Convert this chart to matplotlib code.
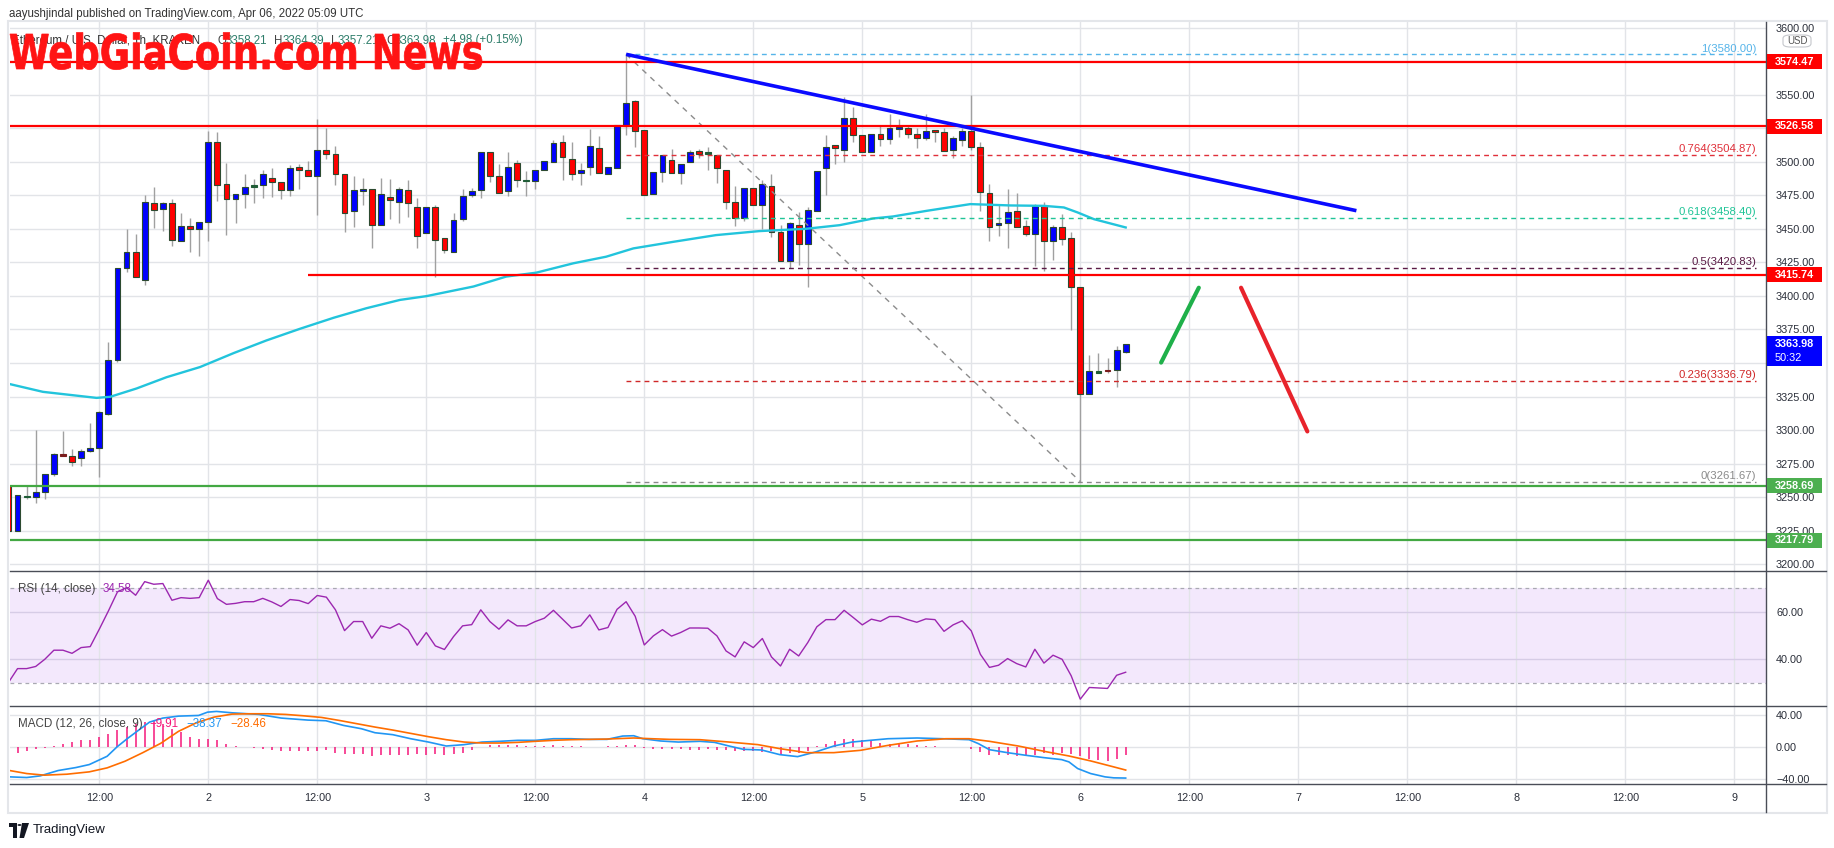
import matplotlib
matplotlib.use('Agg')
import matplotlib.pyplot as plt
import numpy as np
from matplotlib.patches import Rectangle, PathPatch, Polygon, Circle, FancyBboxPatch
from matplotlib.textpath import TextPath
from matplotlib.font_manager import FontProperties
from matplotlib.transforms import Affine2D, IdentityTransform
from matplotlib.lines import Line2D

W, H, DPI = 1834, 848, 100
plt.rcParams['font.family'] = ['Liberation Sans', 'DejaVu Sans']

# ---------------- data (hours since 2022-04-01 00:00 UTC) ----------------
hours = list(range(2, 126))
opens = [3258, 3225, 3250, 3250.5, 3253.5, 3267, 3282, 3281, 3279.5, 3284.6,
         3287, 3312, 3352, 3420.5, 3433, 3412, 3469.5, 3465, 3469.5, 3441,
         3452, 3450, 3454.7, 3515, 3483.7, 3472.5, 3476, 3481.4, 3482.4, 3488,
         3485, 3478.7, 3496, 3494, 3489.4, 3508.4, 3506, 3491, 3463.4, 3478,
         3480, 3453, 3474, 3470, 3479, 3466.6, 3446.5, 3466.6, 3443, 3432.4,
         3457, 3475, 3478.7, 3507, 3489.4, 3478, 3499, 3486, 3485.7, 3493.6,
         3500, 3514.6, 3502, 3491.6, 3496, 3510.4, 3490.6, 3495.3, 3526.5, 3545,
         3523.8, 3475.7, 3492, 3501.5, 3491.6, 3499.7, 3508, 3506, 3504.7, 3494,
         3470, 3458.4, 3480.4, 3467.6, 3482, 3447.8, 3426.2, 3452.8, 3438.6, 3463.4,
         3495.3, 3512.6, 3509, 3532.4, 3520, 3507, 3521, 3517, 3524, 3525,
         3520.7, 3517.5, 3523.7, 3522, 3509, 3516, 3523, 3510.8, 3476.5, 3452.5,
         3454.2, 3463.4, 3452.2, 3446, 3467, 3440.6, 3451.7, 3443, 3406.6, 3326.7,
         3343, 3345.2, 3344.6, 3358.21]
highs = [3260, 3252, 3259, 3300, 3267, 3283, 3299, 3286, 3286, 3305,
         3314, 3365.6, 3421, 3450, 3446, 3475, 3481, 3470, 3472, 3462,
         3458, 3455, 3522.8, 3522, 3499, 3476, 3490.6, 3487, 3493.6, 3495.5,
         3485, 3497.5, 3498, 3500.5, 3532, 3525, 3511.6, 3491, 3489.4, 3488,
         3480, 3487.6, 3487, 3481, 3486, 3472.8, 3466, 3467.6, 3443, 3461.6,
         3480, 3480.4, 3507, 3507, 3498, 3507.4, 3501, 3493, 3493.6, 3500.2,
         3516, 3520, 3514.6, 3499, 3524, 3519, 3496, 3527, 3580, 3546,
         3523.8, 3492.3, 3504.7, 3509.6, 3498.5, 3508.4, 3509.6, 3510.6, 3504.7, 3494,
         3482, 3480.4, 3480.4, 3486, 3490.6, 3452.8, 3455.2, 3462.7, 3466, 3493,
         3520, 3512.6, 3548.5, 3540.6, 3520, 3521, 3527, 3535.6, 3532, 3527,
         3525, 3535.6, 3523.7, 3525, 3519, 3525, 3549.8, 3515, 3483.5, 3468.6,
         3479.8, 3476.5, 3456.7, 3468.6, 3470.3, 3453, 3461.2, 3447.4, 3406.6, 3356.2,
         3357.6, 3354, 3362.7, 3364.39]
lows = [3224, 3224.5, 3249, 3245.6, 3249, 3266, 3281, 3273, 3273, 3284,
        3265, 3311, 3350.7, 3418, 3414, 3408, 3450.5, 3448.5, 3437.4, 3441,
        3433, 3429.6, 3441, 3471, 3445.5, 3454, 3465.6, 3469, 3473, 3474,
        3472, 3474.5, 3480, 3489, 3460.4, 3501.7, 3482.7, 3447.3, 3451.7, 3468,
        3436, 3453, 3457, 3454, 3459, 3436, 3446.5, 3414.4, 3432, 3432.4,
        3455.6, 3474, 3473, 3485, 3476.7, 3474.5, 3481, 3474.5, 3480, 3493.6,
        3500, 3486, 3486, 3482.7, 3490, 3491.6, 3490.6, 3495.3, 3519.6, 3511,
        3475, 3475.7, 3485, 3491.6, 3483.7, 3499.7, 3503, 3494, 3484, 3465,
        3452, 3456, 3468, 3450, 3444, 3426.2, 3420.5, 3422.7, 3407, 3463.4,
        3475, 3498.5, 3499.7, 3515, 3507, 3507, 3512, 3513, 3518.7, 3517.5,
        3510.5, 3516, 3515, 3508, 3503, 3512, 3509, 3463, 3440.6, 3445,
        3436, 3451.7, 3444.3, 3422, 3418.4, 3426.4, 3438, 3374.8, 3261.67, 3326.7,
        3342.5, 3342.7, 3331.8, 3357.21]
closes = [3225, 3252, 3251, 3254, 3267, 3282, 3281, 3276, 3284.6, 3287,
          3313.6, 3352, 3420.5, 3432.4, 3414, 3470, 3464, 3469.5, 3442, 3452,
          3450, 3454.7, 3515, 3482.7, 3472.5, 3475.7, 3481.4, 3482.4, 3491, 3485,
          3478.7, 3495.5, 3493.6, 3489.4, 3508.4, 3506, 3491, 3462, 3478.7, 3479.5,
          3453, 3475.7, 3471.5, 3480, 3469, 3445, 3466, 3442, 3434.4, 3456.7,
          3474.5, 3478, 3507, 3489.4, 3476.7, 3496, 3486, 3486.4, 3493.6, 3500.2,
          3514, 3503.5, 3490.6, 3494, 3511.6, 3491.6, 3496, 3527, 3543.8, 3523,
          3475, 3492.3, 3504.7, 3491.6, 3498.5, 3507, 3506, 3507, 3495, 3469.6,
          3458.4, 3480.4, 3468, 3483.7, 3447.8, 3426.2, 3454, 3438.6, 3463.9, 3493,
          3511, 3510, 3532.4, 3519.6, 3507, 3521, 3517, 3525.2, 3526, 3521,
          3517.5, 3523, 3522, 3508, 3517.5, 3523, 3511, 3477.3, 3451, 3454.2,
          3462.4, 3451.7, 3446, 3467, 3440.6, 3451.2, 3442.4, 3407, 3327, 3343.8,
          3343.5, 3344, 3360, 3363.98]

ema_hours = [2.2, 5.8, 11.7, 13.2, 16.1, 19.4, 23.1, 26.8, 30.4, 34.1, 37.8, 41.4, 45.1, 48.0,
             53.2, 56.8, 60.1, 64.2, 67.8, 70.8, 75.2, 79.9, 84.7, 89.8, 93.5, 97.2,
             99.4, 103.1, 107.9, 112.3, 116.0, 118.2, 119.7, 121.5, 125.0]
ema_values = [3334.2, 3328.5, 3324.0, 3324.8, 3331.0, 3339.4, 3347.0, 3357.4, 3366.8, 3375.5,
              3383.7, 3390.8, 3397.0, 3399.8, 3407.0, 3414.4, 3417.3, 3424.3, 3429.2, 3435.4,
              3440.3, 3445.3, 3448.3, 3450.0, 3452.7, 3457.7, 3459.2, 3463.4, 3468.4, 3467.4,
              3467.1, 3465.9, 3462.2, 3457.2, 3451.0]

rsi_values = [30.3, 36.1, 36.1, 37.0, 40.0, 43.8, 43.8, 42.5, 44.9, 45.3,
              52.6, 60.2, 68.2, 70.0, 66.8, 72.5, 71.4, 71.7, 64.7, 65.8,
              65.5, 65.8, 73.1, 65.4, 63.0, 63.4, 64.1, 64.1, 65.5, 64.0,
              62.1, 65.0, 64.6, 63.3, 66.7, 66.0, 60.7, 52.0, 55.8, 55.8,
              48.8, 54.0, 53.0, 54.9, 52.3, 45.9, 51.2, 45.6, 44.1, 49.5,
              54.0, 54.5, 60.7, 55.8, 52.6, 56.5, 54.0, 54.0, 55.8, 57.2,
              60.5, 56.8, 53.1, 54.0, 58.6, 52.3, 53.3, 60.9, 64.1, 58.0,
              46.0, 49.8, 52.4, 49.7, 51.2, 53.1, 53.1, 53.0, 49.8, 43.5,
              41.0, 47.3, 44.9, 48.7, 41.0, 37.2, 44.2, 41.4, 47.0, 53.6,
              56.6, 56.6, 60.5, 57.5, 54.4, 56.8, 55.9, 57.9, 57.9, 56.6,
              55.5, 56.9, 56.6, 51.7, 54.4, 56.1, 51.9, 42.1, 36.6, 37.5,
              40.3, 38.2, 36.8, 44.2, 38.4, 41.7, 40.0, 33.1, 23.3, 28.2,
              28.0, 27.8, 33.3, 34.58]

hist_values = [-7.0, -7.0, -5.3, -2.9, -1.2, 0.8, 3.7, 6.1, 8.2, 9.0,
               11.9, 16.4, 21.3, 24.6, 28.7, 30.7, 32.0, 27.9, 22.5, 18.4,
               12.3, 9.4, 10.2, 8.2, 4.1, 0.8, 0.0, -0.8, -2.0, -4.1,
               -5.3, -5.3, -5.3, -5.3, -5.3, -4.1, -7.0, -8.2, -8.2, -9.0,
               -11.1, -10.2, -9.4, -9.4, -9.4, -9.0, -9.4, -8.6, -10.2, -8.2,
               -7.0, -4.1, 0.0, 2.0, 2.0, 2.0, 2.0, 1.2, 1.2, 1.2,
               2.0, 1.2, 0.8, 0.8, 0.0, 0.0, 0.8, 1.6, 2.9, 2.0,
               -1.2, -2.0, -2.9, -2.9, -2.9, -3.3, -3.7, -2.9, -3.3, -4.1,
               -4.9, -5.3, -5.3, -6.1, -5.3, -8.2, -7.4, -7.0, -5.3, 1.2,
               3.3, 7.0, 10.2, 10.2, 9.0, 7.4, 4.9, 4.1, 3.3, 3.3,
               2.0, 1.2, 0.8, 0.0, -0.4, -0.4, -2.9, -6.1, -9.4, -10.2,
               -10.2, -11.1, -10.2, -10.2, -7.4, -9.4, -7.0, -8.2, -11.5, -14.3,
               -16.4, -17.6, -14.3, -9.91]

macd_hours = [2.15, 4.01, 5.49, 7.46, 9.42, 10.9, 12.86, 13.94, 15.07, 16.3, 17.53, 19.0,
              20.72, 22.93, 23.92, 24.9, 26.62, 29.57, 32.03, 34.97, 36.94, 38.9, 40.87,
              42.35, 44.31, 46.28, 48.24, 50.2, 52.17, 54.14, 56.1, 58.07, 60.03, 62.0,
              63.96, 65.93, 67.9, 69.62, 70.84, 71.83, 73.8, 75.76, 78.14, 79.74, 81.33,
              82.92, 84.91, 86.9, 88.88, 90.87, 92.87, 94.86, 96.85, 98.84, 102.03,
              104.81, 107.76, 108.79, 109.99, 111.98, 113.97, 115.96, 117.95, 118.75,
              119.71, 121.14, 122.73, 123.69, 125.0]
macd_values = [-36.9, -37.7, -35.7, -29.1, -25.4, -21.7, -11.5, 0.0, 10.2, 20.5, 30.7, 35.7,
               38.1, 38.9, 43.0, 43.9, 42.2, 40.2, 35.7, 33.2, 32.4, 26.6, 22.5,
               17.6, 15.2, 10.2, 6.1, 1.2, 2.9, 6.1, 7.0, 8.2, 8.2, 10.2,
               10.2, 9.4, 9.4, 13.5, 13.9, 10.2, 7.4, 6.1, 7.0, 5.7, 1.2,
               -2.9, -3.7, -9.4, -11.9, -6.1, 1.2, 6.1, 8.2, 10.2, 11.1,
               10.2, 9.0, 4.1, -3.3, -7.0, -10.2, -13.1, -15.6, -18.4,
               -26.6, -32.8, -36.9, -38.1, -38.37]
signal_hours = [2.15, 4.01, 5.98, 8.44, 10.9, 12.86, 14.83, 16.79, 18.76, 20.72, 22.69,
                24.65, 26.62, 28.58, 30.55, 32.52, 34.48, 36.45, 38.41, 40.38, 42.35,
                44.31, 46.28, 48.24, 50.2, 52.17, 54.14, 56.1, 58.07, 60.03, 62.0,
                63.96, 65.93, 67.9, 70.84, 72.81, 74.77, 78.14, 81.33, 84.51, 86.9,
                89.85, 92.87, 95.82, 98.84, 102.03, 105.2, 107.76, 109.99, 113.18,
                116.36, 118.75, 121.14, 123.69, 125.0]
signal_values = [-29.1, -32.8, -34.8, -33.6, -30.7, -25.8, -17.6, -7.0, 4.5, 19.3, 29.9,
                 36.9, 40.6, 41.0, 41.0, 40.2, 38.5, 36.5, 32.8, 28.7, 24.6,
                 20.9, 16.8, 12.7, 9.0, 6.1, 4.9, 4.9, 5.7, 7.0, 8.2,
                 9.0, 9.4, 9.8, 11.1, 10.2, 9.4, 9.0, 6.1, 2.9, -2.0,
                 -7.0, -7.0, -4.1, 2.0, 7.4, 10.2, 10.2, 7.0, 1.2,
                 -6.1, -11.1, -17.2, -24.6, -28.46]

red_levels = [3574.47, 3526.58]
mid_level = 3415.74
mid_level_start = 35
green_levels = [3258.69, 3217.79]
fib_ratios = ['1', '0.764', '0.618', '0.5', '0.236', '0']
fib_prices = [3580.00, 3504.87, 3458.40, 3420.83, 3336.79, 3261.67]
fib_start = 70
swing_hours = [70, 120]
swing_prices = [3580.00, 3261.67]
trend_hours = [70, 150.4]
trend_prices = [3580.0, 3463.5]
up_hours = [128.9, 133.05]
up_prices = [3350.3, 3406.1]
down_hours = [137.7, 145.0]
down_prices = [3406.1, 3299.0]
price_ticks = list(range(3200, 3601, 25))
hidden_price_ticks = [3350, 3525, 3575]   # covered by the label boxes in the original
time_ticks = list(range(12, 193, 12))
time_labels = ['12:00', '2', '12:00', '3', '12:00', '4', '12:00', '5',
               '12:00', '6', '12:00', '7', '12:00', '8', '12:00', '9']
last_price = 3363.98
countdown = '50:32'
ohlc_items = [('O', '3358.21'), ('H', '3364.39'), ('L', '3357.21'), ('C', '3363.98')]
change_text = '+4.98 (+0.15%)'

for arr in (opens, highs, lows, closes, rsi_values, hist_values):
    assert len(arr) == len(hours), len(arr)
assert len(ema_hours) == len(ema_values)
assert len(macd_hours) == len(macd_values)
assert len(signal_hours) == len(signal_values)

# ---------------- figure ----------------
fig = plt.figure(figsize=(W / DPI, H / DPI), dpi=DPI)
fig.patch.set_facecolor('white')


def rect(x0, y0, x1, y1):
    return [x0 / W, 1 - y1 / H, (x1 - x0) / W, (y1 - y0) / H]


AX_L, AX_R = 10, 1765.5
ax = fig.add_axes(rect(AX_L, 22, AX_R, 571))
axr = fig.add_axes(rect(AX_L, 571, AX_R, 706), sharex=ax)
axm = fig.add_axes(rect(AX_L, 706, AX_R, 784), sharex=ax)
XL = (2.17, 195.44)
GRID = '#e2e4e8'
TXT = '#2a2e39'

for a in (ax, axr, axm):
    a.set_facecolor('white')
    for s in a.spines.values():
        s.set_visible(False)
    a.set_xlim(*XL)
    a.set_xticks(time_ticks)
    a.grid(True, color=GRID, lw=1, zorder=0)
    a.set_axisbelow(True)
    a.yaxis.set_ticks_position('right')
    a.tick_params(axis='both', length=0, labelsize=7.8, colors=TXT,
                  labelleft=False, labelright=True, labelbottom=False, pad=7.6)

# ---- main panel ----
ax.set_ylim(3195.0, 3604.1)
ax.set_yticks(price_ticks)
ax.set_yticklabels(['' if p in hidden_price_ticks else f'{p:.2f}' for p in price_ticks])

t = np.array(hours, float)
o = np.array(opens); h = np.array(highs); l = np.array(lows); c = np.array(closes)
up = c >= o
ax.vlines(t, l, h, color='#a0a0a0', lw=1, zorder=3)
diff = np.abs(c - o)
doji = diff < 1.5
body_h = np.where(doji, 1.0, diff)
bottom = np.where(doji, (o + c) / 2 - 0.5, np.minimum(o, c))
face = np.where(up, '#0000ff', '#ff0000')
edge = np.where(doji, np.where(up, '#1f5c36', '#7a1c1c'), '#2c4a30')
face = np.where(doji, edge, face)
ax.bar(t, body_h, bottom=bottom, width=0.64, color=face, edgecolor=edge, lw=0.8, zorder=4)

ax.plot(ema_hours, ema_values, color='#22c4dc', lw=1.7, zorder=5)

for p in red_levels:
    ax.axhline(p, color='#ff0000', lw=1.6, zorder=6)
ax.hlines(mid_level, mid_level_start, XL[1], color='#ff0000', lw=1.6, zorder=6)
for p in green_levels:
    ax.axhline(p, color='#43a843', lw=1.6, zorder=6)

fib_colors = ['#56b4e9', '#e0303a', '#20c497', '#5a1a45', '#d02828', '#8a8a8a']
fib_end = 194.4
for r, p, col in zip(fib_ratios, fib_prices, fib_colors):
    ax.hlines(p, fib_start, fib_end, colors=col, lw=1.0, linestyles=(0, (3.5, 3)), zorder=5)
    ax.text(fib_end, p + 0.6, f'{r}({p:.2f})', color=col, fontsize=8.2, ha='right',
            va='bottom', zorder=7)
ax.plot(swing_hours, swing_prices, color='#8c8c8c', lw=1.0, ls=(0, (4, 4)), zorder=5)
ax.plot(trend_hours, trend_prices, color='#0a0aff', lw=2.6, zorder=7, solid_capstyle='butt')
ax.plot(up_hours, up_prices, color='#1fb04a', lw=3.0, zorder=7, solid_capstyle='round')
ax.plot(down_hours, down_prices, color='#e8232b', lw=3.0, zorder=7, solid_capstyle='round')

# ---- RSI panel ----
axr.set_ylim(20.45, 76.95)
axr.set_yticks([40, 60])
axr.set_yticklabels(['40.00', '60.00'])
axr.axhspan(30, 70, color='#f3e8fc', zorder=0.5, lw=0)
axr.grid(True, axis='y', color='#d6cce6', lw=1)
for lv in (30, 70):
    axr.axhline(lv, color='#a9a9b2', lw=0.9, ls=(0, (3, 3)), zorder=1)
axr.plot(hours, rsi_values, color='#9c27b0', lw=1.0, zorder=4)

# ---- MACD panel ----
axm.set_ylim(-45.7, 50.6)
axm.set_yticks([-40, 0, 40])
axm.set_yticklabels(['\u221240.00', '0.00', '40.00'])
axm.vlines(hours, 0, hist_values, color='#f5177a', lw=1.1, zorder=3)
axm.plot(macd_hours, macd_values, color='#2196f3', lw=1.2, zorder=4)
axm.plot(signal_hours, signal_values, color='#ff6d00', lw=1.2, zorder=4)
axm.set_xticklabels(time_labels)
axm.tick_params(axis='x', labelbottom=True, pad=6.5, labelsize=7.8)

# ---- frame lines ----
BORDER = '#4a4d57'
for yy in (571, 706, 784):
    fig.add_artist(Line2D([AX_L / W, 1826 / W], [1 - yy / H] * 2, color=BORDER, lw=1))
fig.add_artist(Line2D([AX_R / W] * 2, [1 - 22 / H, 1 - 812 / H], color=BORDER, lw=1))
fig.add_artist(Rectangle((8 / W, 1 - 813 / H), (1827 - 8) / W, (813 - 21) / H,
                         transform=fig.transFigure, fill=False, ec='#e4e6ea', lw=1.5))

# ---- price label boxes ----
fig.canvas.draw()
renderer = fig.canvas.get_renderer()


def ydisp(p):
    return ax.transData.transform((XL[0], p))[1]


BX0, BW = 1766.5, 55.5
boxes = [(red_levels[0], '#ff0000'), (red_levels[1], '#ff0000'), (mid_level, '#ff0000'),
         (green_levels[0], '#4caf50'), (green_levels[1], '#4caf50')]
for p, col in boxes:
    yd = ydisp(p)
    fig.add_artist(Rectangle((BX0, yd - 7.5), BW, 15, transform=IdentityTransform(),
                             fc=col, ec='none', zorder=20))
    fig.text((BX0 + BW / 2) / W, yd / H, f'{p:.2f}', color='white', fontsize=7.8,
             fontweight='bold', ha='center', va='center', zorder=21)
yd = ydisp(last_price)
fig.add_artist(Rectangle((BX0, yd - 22), BW, 30, transform=IdentityTransform(),
                         fc='#0000ff', ec='none', zorder=20))
fig.text((BX0 + BW / 2) / W, yd / H, f'{last_price:.2f}', color='white', fontsize=7.8,
         fontweight='bold', ha='center', va='center', zorder=21)
fig.text((BX0 + BW / 2 - 6) / W, (yd - 14) / H, countdown, color='white', fontsize=7.8,
         ha='center', va='center', zorder=21)

# USD badge
fig.add_artist(FancyBboxPatch((1783 / W, 1 - 47 / H), 28 / W, 12 / H,
                              boxstyle='round,pad=0,rounding_size=0.004',
                              transform=fig.transFigure, fc='white', ec='#c5c7cc', lw=0.8, zorder=20))
fig.text(1797 / W, 1 - 41 / H, 'USD', fontsize=7, color='#555', ha='center', va='center', zorder=21)


# ---- header texts ----
def ftext(x, y, s, **kw):
    return fig.text(x / W, 1 - y / H, s, va='center', **kw)


def width_px(txt):
    return txt.get_window_extent(renderer).width


ftext(9, 14.5, 'aayushjindal published on TradingView.com, Apr 06, 2022 05:09 UTC',
      fontsize=8.3, color='#333')
ftext(12, 40.5, 'Ethereum / U.S. Dollar, 1h, KRAKEN', fontsize=8.3, color='#333')
x = 217
for k, v in ohlc_items:
    t1 = ftext(x, 40.5, k, fontsize=8.3, color='#444')
    x += width_px(t1)
    t2 = ftext(x, 40.5, v, fontsize=8.3, color='#2e7d6a')
    x += width_px(t2) + 7
ftext(x, 40.5, change_text, fontsize=8.3, color='#2e7d6a')

r1 = ftext(18, 589, 'RSI (14, close)', fontsize=8.4, color='#444')
ftext(18 + width_px(r1) + 7, 589, '34.58', fontsize=8.4, color='#9c27b0')
m1 = ftext(18, 724, 'MACD (12, 26, close, 9)', fontsize=8.4, color='#444')
x = 18 + width_px(m1) + 7
for s, col in (('\u22129.91', '#f5177a'), ('\u221238.37', '#2196f3'), ('\u221228.46', '#ff6d00')):
    tt = ftext(x, 724, s, fontsize=8.4, color=col)
    x += width_px(tt) + 8

# TradingView footer logo
ftext(33, 830, 'TradingView', fontsize=9.5, color='#131722')
logo = [[(9, 823), (17, 823), (17, 838), (13, 838), (13, 827), (9, 827)],
        [(22, 823), (29, 823), (24, 838), (19.5, 838)]]
for pts in logo:
    xy = [(px / W, 1 - py / H) for px, py in pts]
    fig.add_artist(Polygon(xy, closed=True, transform=fig.transFigure, fc='#131722', ec='none'))
fig.add_artist(Circle((19.5 / W, 1 - 825 / H), 2 / W, transform=fig.transFigure, fc='#131722'))

# ---- watermark ----
fp = FontProperties(family='DejaVu Sans', weight='bold')
tp = TextPath((0, 0), 'WebGiaCoin.com News', size=1, prop=fp)
bb = tp.get_extents()
sx = (482 - 10) / bb.width
sy = 35 / 0.729
tr = Affine2D().translate(-bb.x0, 0).scale(sx, sy).translate(10, H - 69)
fig.add_artist(PathPatch(tp, transform=tr, fc='#ff1414', ec='#ff1414', lw=0.5, zorder=30))

fig.savefig('out.png', dpi=DPI, facecolor='white')
